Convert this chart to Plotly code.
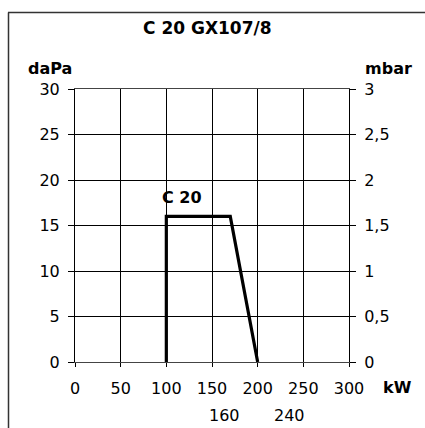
import plotly.graph_objects as go

# Data
curve_kw = [100, 100, 170, 200]
curve_dapa = [0, 16, 16, 0]
curve_label = "C 20"
title_text = "C 20 GX107/8"
x_ticks = [0, 50, 100, 150, 200, 250, 300]
y_ticks = [0, 5, 10, 15, 20, 25, 30]
y2_ticks = [0, 0.5, 1, 1.5, 2, 2.5, 3]
extra_kw_labels = ["160", "240"]
extra_kw_pos = [164, 235]

FONT = "DejaVu Sans, Liberation Sans, Arial, sans-serif"
W, H = 425, 428
# plot area in screen pixels
L, R, T, B = 75, 349, 89, 362

def px(xp):
    return (xp - L) / (R - L)

def py(yp):
    return (B - yp) / (B - T)

fig = go.Figure()
fig.add_trace(go.Scatter(x=curve_kw, y=curve_dapa, mode="lines",
                         line=dict(color="black", width=3.2), showlegend=False,
                         hoverinfo="skip"))
fig.add_trace(go.Scatter(x=[0], y=[0], yaxis="y2", mode="markers",
                         marker=dict(opacity=0), showlegend=False, hoverinfo="skip"))

fig.update_layout(
    width=W, height=H,
    margin=dict(l=L, r=W - R, t=T, b=H - B, pad=0),
    paper_bgcolor="white", plot_bgcolor="white",
    separators=",.",
    font=dict(family=FONT, size=16, color="black"),
    xaxis=dict(range=[0, 300], tickvals=x_ticks, showgrid=True, gridcolor="black",
               gridwidth=1, ticks="outside", ticklen=4, tickcolor="black",
               ticklabelstandoff=8, zeroline=False, showline=True, mirror=True,
               linecolor="#444", linewidth=1, tickfont=dict(size=16)),
    yaxis=dict(range=[0, 30], tickvals=y_ticks, showgrid=True, gridcolor="black",
               gridwidth=1, ticks="outside", ticklen=6, tickcolor="black",
               ticklabelstandoff=5, zeroline=False, showline=True, mirror=True,
               linecolor="black", linewidth=1, tickfont=dict(size=16)),
    yaxis2=dict(range=[0, 3], tickvals=y2_ticks, overlaying="y", side="right",
                showgrid=False, ticks="outside", ticklen=6, tickcolor="black",
                ticklabelstandoff=5, zeroline=False, showline=False,
                tickfont=dict(size=16)),
)

def lab(text, x, y, size=16, xref="paper"):
    return dict(text=text, xref=xref, yref="paper", x=x, y=y, showarrow=False,
                xanchor="center", yanchor="middle", font=dict(size=size))

ann = [
    lab("<b>" + title_text + "</b>", px(207), py(28), 17),
    lab("<b>daPa</b>", px(50), py(68)),
    lab("<b>mbar</b>", px(388), py(68)),
    lab("<b>kW</b>", px(397), py(387)),
    lab("<b>" + curve_label + "</b>", 117, py(197), xref="x"),
]
for t, xv in zip(extra_kw_labels, extra_kw_pos):
    ann.append(lab(t, xv, py(415), xref="x"))
fig.update_layout(annotations=ann)

fig.update_layout(shapes=[
    dict(type="line", xref="paper", yref="paper", x0=px(8), x1=px(425),
         y0=py(12.5), y1=py(12.5), line=dict(color="#333", width=1.5)),
    dict(type="line", xref="paper", yref="paper", x0=px(8.5), x1=px(8.5),
         y0=py(12.5), y1=py(428), line=dict(color="#333", width=1.5)),
])

fig.write_html("out.html", config={"displayModeBar": False},
               post_script="document.body.style.margin='0';document.body.style.overflow='hidden';")
